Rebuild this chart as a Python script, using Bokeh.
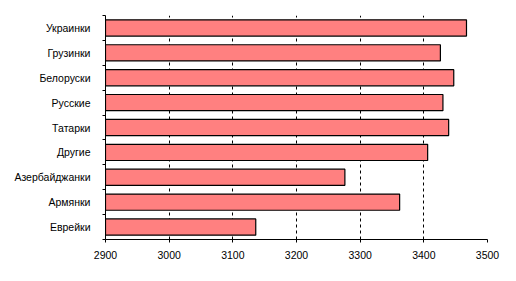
from bokeh.plotting import figure
from bokeh.models import FixedTicker, Range1d, ColumnDataSource
from bokeh.embed import file_html
from bokeh.resources import INLINE

categories = ["Украинки", "Грузинки", "Белоруски", "Русские", "Татарки",
              "Другие", "Азербайджанки", "Армянки", "Еврейки"]
values = [3467, 3426, 3447, 3430, 3439, 3406, 3276, 3362, 3136]
x_ticks = [2900, 3000, 3100, 3200, 3300, 3400, 3500]

n = len(categories)
ypos = [n - 0.5 - i for i in range(n)]
src = ColumnDataSource(dict(y=ypos, v=values, cat=categories))

p = figure(frame_width=382, frame_height=224, output_backend="svg",
           toolbar_location=None, x_range=Range1d(2900, 3500),
           y_range=Range1d(0, n),
           min_border_left=105, min_border_right=29,
           min_border_top=15, min_border_bottom=42)
p.outline_line_color = None
p.background_fill_color = "white"
p.border_fill_color = "white"

p.hbar(y="y", left=2900, right="v", height=0.65, source=src,
       fill_color="#FF8080", line_color="black", line_width=1.2)

# x axis
p.xaxis.ticker = FixedTicker(ticks=x_ticks)
p.xaxis.axis_line_color = "black"
p.xaxis.major_tick_line_color = "black"
p.xaxis.major_tick_out = 3
p.xaxis.major_tick_in = 0
p.xaxis.minor_tick_line_color = None
p.xaxis.major_label_text_font = "Liberation Sans"
p.xaxis.major_label_text_font_size = "10.5px"
p.xaxis.major_label_text_color = "black"
p.xaxis.major_label_standoff = 8

# y axis
p.yaxis.ticker = FixedTicker(ticks=ypos, minor_ticks=list(range(n + 1)))
p.yaxis.major_label_overrides = {y: c for y, c in zip(ypos, categories)}
p.yaxis.major_tick_line_color = None
p.yaxis.minor_tick_line_color = "black"
p.yaxis.minor_tick_out = 3
p.yaxis.minor_tick_in = 0
p.yaxis.axis_line_color = "black"
p.yaxis.major_label_text_font = "Liberation Sans"
p.yaxis.major_label_text_font_size = "10.5px"
p.yaxis.major_label_text_color = "black"
p.yaxis.major_label_standoff = 9

# grid
p.ygrid.grid_line_color = None
p.xgrid.ticker = FixedTicker(ticks=x_ticks[1:])
p.xgrid.grid_line_color = "black"
p.xgrid.grid_line_dash = "3 3"
p.xgrid.grid_line_width = 1

open("out.html", "w").write(file_html(p, INLINE))
